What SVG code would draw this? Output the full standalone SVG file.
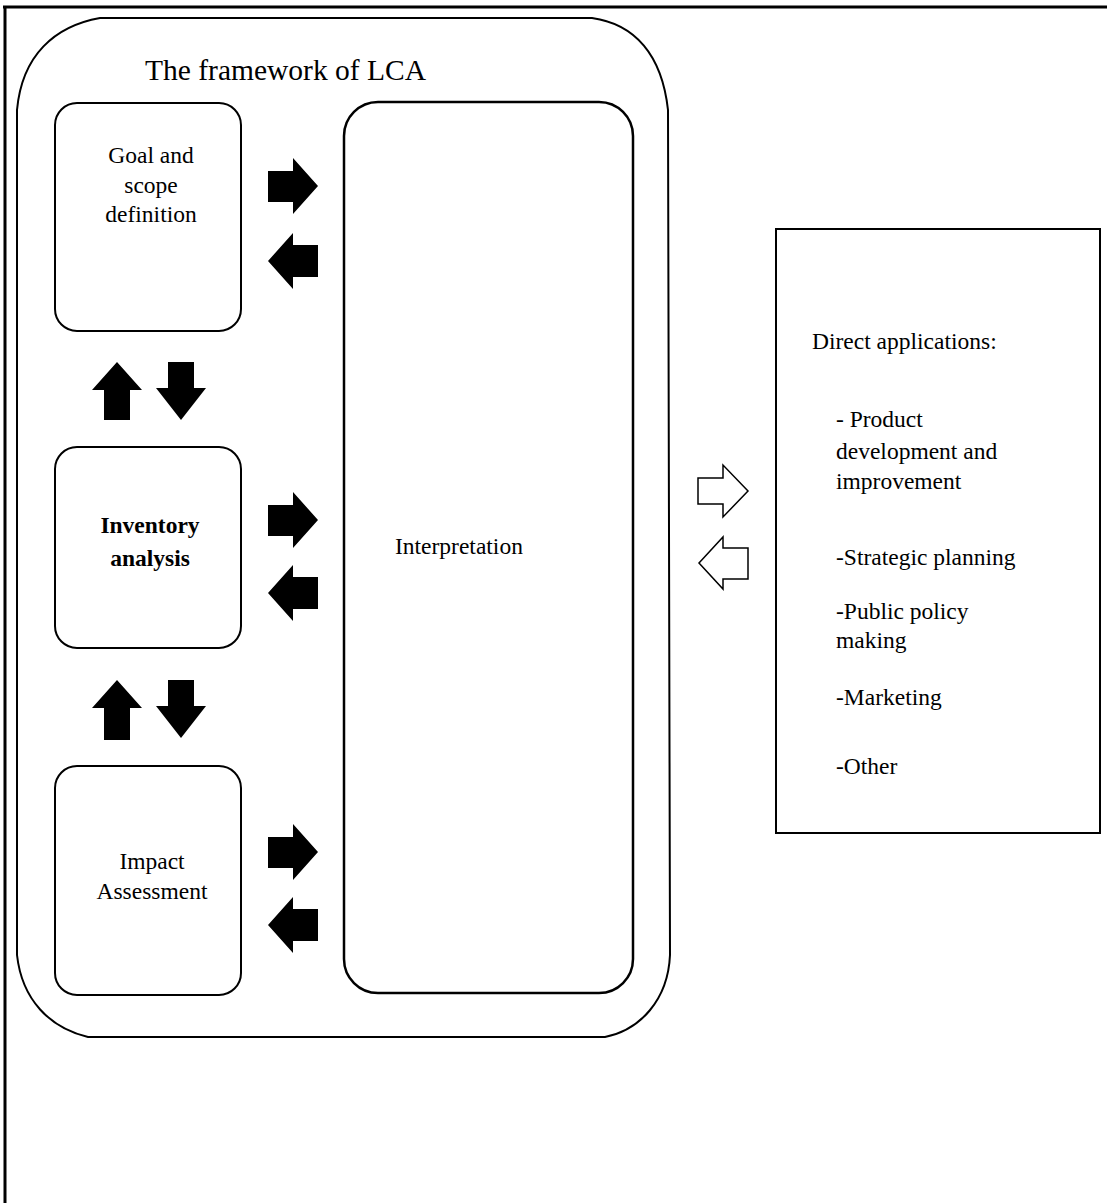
<svg xmlns="http://www.w3.org/2000/svg" width="1107" height="1203" viewBox="0 0 1107 1203">
<style>
  .t { font-family: "Liberation Serif", "Times New Roman", serif; font-size: 23.5px; fill: #000; }
  .c { text-anchor: middle; }
  .box { fill: none; stroke: #000; stroke-width: 2; }
  .solid { fill: #000; stroke: none; }
  .open { fill: #fff; stroke: #000; stroke-width: 1.5; stroke-linejoin: miter; }
</style>
<rect x="0" y="0" width="1107" height="1203" fill="#fff"/>
<g id="frame">
  <line x1="3" y1="7" x2="1107" y2="7" stroke="#000" stroke-width="3"/>
  <line x1="5" y1="6" x2="5" y2="1203" stroke="#000" stroke-width="3"/>
</g>
<g id="lca-framework">
  <path class="box" d="M100,18 L592,18 C635,24 662,55 668,110 L670,955 C668,1000 640,1030 605,1037 L88,1037 C50,1028 22,1000 17,955 L17,110 C22,55 55,26 100,18 Z"/>
  <text class="t" x="145" y="80" style="font-size:29.5px">The framework of LCA</text>
</g>
<g id="goal">
  <rect class="box" x="55" y="103" width="186" height="228" rx="22" ry="22"/>
  <text class="t c" x="151" y="163">Goal and</text>
  <text class="t c" x="151" y="193">scope</text>
  <text class="t c" x="151" y="222">definition</text>
</g>
<g id="inventory">
  <rect class="box" x="55" y="447" width="186" height="201" rx="22" ry="22"/>
  <text class="t c" x="150" y="533" font-weight="bold">Inventory</text>
  <text class="t c" x="150" y="566" font-weight="bold">analysis</text>
</g>
<g id="impact">
  <rect class="box" x="55" y="766" width="186" height="229" rx="22" ry="22"/>
  <text class="t c" x="152" y="869">Impact</text>
  <text class="t c" x="152" y="899">Assessment</text>
</g>
<g id="interpretation">
  <rect class="box" x="344" y="102" width="289" height="891" rx="34" ry="34" style="stroke-width:2.5"/>
  <text class="t" x="395" y="554">Interpretation</text>
</g>
<g id="applications">
  <rect class="box" x="776" y="229" width="324" height="604"/>
  <text class="t" x="812" y="349">Direct applications:</text>
  <text class="t" x="836" y="427">- Product</text>
  <text class="t" x="836" y="459">development and</text>
  <text class="t" x="836" y="489">improvement</text>
  <text class="t" x="836" y="565">-Strategic planning</text>
  <text class="t" x="836" y="619">-Public policy</text>
  <text class="t" x="836" y="648">making</text>
  <text class="t" x="836" y="705">-Marketing</text>
  <text class="t" x="836" y="774">-Other</text>
</g>
<g id="connectors">
  <polygon class="solid" points="268,171 293,171 293,158 318,186 293,214 293,202 268,202"/>
  <polygon class="solid" points="268,261 293,233 293,245 318,245 318,277 293,277 293,289"/>
  <polygon class="solid" points="268,505 293,505 293,492 318,520 293,548 293,536 268,536"/>
  <polygon class="solid" points="268,593 293,565 293,577 318,577 318,609 293,609 293,621"/>
  <polygon class="solid" points="268,837 293,837 293,824 318,852 293,880 293,868 268,868"/>
  <polygon class="solid" points="268,925 293,897 293,909 318,909 318,941 293,941 293,953"/>
  <polygon class="solid" points="117,362 142,390 130,390 130,420 104,420 104,390 92,390"/>
  <polygon class="solid" points="168,362 194,362 194,388 206,388 181,420 156,388 168,388"/>
  <polygon class="solid" points="117,680 142,708 130,708 130,740 104,740 104,708 92,708"/>
  <polygon class="solid" points="168,680 194,680 194,706 206,706 181,738 156,706 168,706"/>
  <polygon class="open" points="698,478 723,478 723,465 748,491 723,517 723,504 698,504"/>
  <polygon class="open" points="699,563 723,537 723,548 748,548 748,579 723,579 723,589"/>
</g>
</svg>
